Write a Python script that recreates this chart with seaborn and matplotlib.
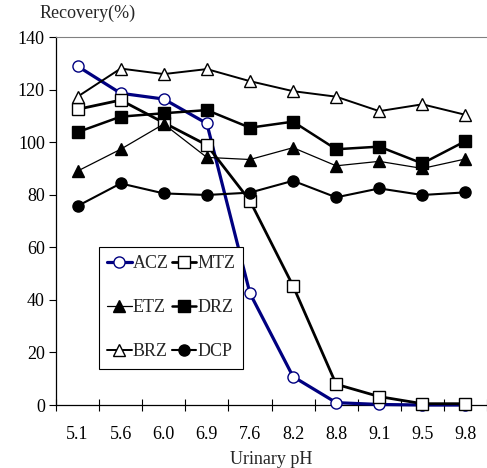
import matplotlib
matplotlib.use("Agg")
import matplotlib.pyplot as plt
import seaborn as sns
import numpy as np

# data
ph_labels = ["5.1", "5.6", "6.0", "6.9", "7.6", "8.2", "8.8", "9.1", "9.5", "9.8"]
acz = [128.9, 118.6, 116.4, 107.1, 42.5, 10.8, 0.9, 0.2, 0.0, 0.0]
mtz = [112.5, 116.0, 107.4, 98.9, 77.7, 45.3, 7.9, 3.2, 0.5, 0.5]
etz = [89.0, 97.3, 106.9, 94.2, 93.4, 97.9, 91.0, 92.7, 90.0, 93.6]
drz = [103.8, 109.7, 111.0, 112.2, 105.5, 107.8, 97.3, 98.3, 91.9, 100.4]
brz = [117.3, 128.0, 125.9, 127.8, 123.2, 119.4, 117.3, 111.8, 114.4, 110.4]
dcp = [75.7, 84.3, 80.5, 79.9, 80.8, 85.3, 79.0, 82.4, 79.9, 80.9]

sns.set_style("ticks")
plt.rcParams["font.family"] = ["Liberation Serif", "DejaVu Serif"]
fs = 13

fig = plt.figure(figsize=(4.87, 4.68), dpi=100)
ax = fig.add_axes([0.115, 0.1346, 0.885, 0.7863])

x = np.arange(len(ph_labels))

# name, values, color, linewidth, marker, marker face
series = [
    ("ACZ", acz, "#000080", 2.3, "o", "white"),
    ("MTZ", mtz, "black", 2.0, "s", "white"),
    ("ETZ", etz, "black", 0.9, "^", "black"),
    ("DRZ", drz, "black", 1.8, "s", "black"),
    ("BRZ", brz, "black", 1.4, "^", "white"),
    ("DCP", dcp, "black", 1.5, "o", "black"),
]

for name, vals, col, lw, mk, mfc in series:
    sns.lineplot(x=x, y=vals, ax=ax, color=col, linewidth=lw, marker=mk,
                 markersize=8, markerfacecolor=mfc, markeredgecolor=col,
                 markeredgewidth=1.0, label=name, clip_on=False, zorder=3)

h, l = ax.get_legend_handles_labels()
hd = dict(zip(l, h))
order = ["ACZ", "ETZ", "BRZ", "MTZ", "DRZ", "DCP"]
leg = ax.legend([hd[k] for k in order], order, ncol=2, loc="upper left",
                bbox_to_anchor=(0.0998, 0.429), borderaxespad=0, frameon=True,
                fancybox=False, edgecolor="black", framealpha=1,
                labelspacing=1.5, columnspacing=0.2, handlelength=1.35,
                handletextpad=0.05, borderpad=0.45, fontsize=fs)
leg.get_frame().set_linewidth(0.8)

ax.set_xlim(-0.5, len(ph_labels) - 0.5)
ax.set_ylim(0, 140)
ax.set_yticks(np.arange(0, 141, 20))
ax.set_xticks(np.arange(-0.5, len(ph_labels)), minor=False)
ax.set_xticklabels([])
ax.set_xticks(x, minor=True)
ax.set_xticklabels(ph_labels, minor=True)
ax.tick_params(axis="x", which="major", direction="inout", length=9, width=0.8)
ax.tick_params(axis="x", which="minor", length=0, pad=15)
ax.tick_params(axis="y", direction="out", length=5, width=0.8, pad=3)
ax.tick_params(which="both", labelsize=fs, colors="black")

ax.spines["right"].set_visible(False)
ax.spines["top"].set_color("#808080")
for s in ["left", "bottom"]:
    ax.spines[s].set_linewidth(0.9)
    ax.spines[s].set_color("black")

ax.set_xlabel("Urinary pH", fontsize=fs, labelpad=6)
ax.set_ylabel("")
fig.text(40 / 487, 1 - 13 / 468, "Recovery(%)", fontsize=fs, va="center", ha="left")

fig.savefig("out.png", dpi=100)
